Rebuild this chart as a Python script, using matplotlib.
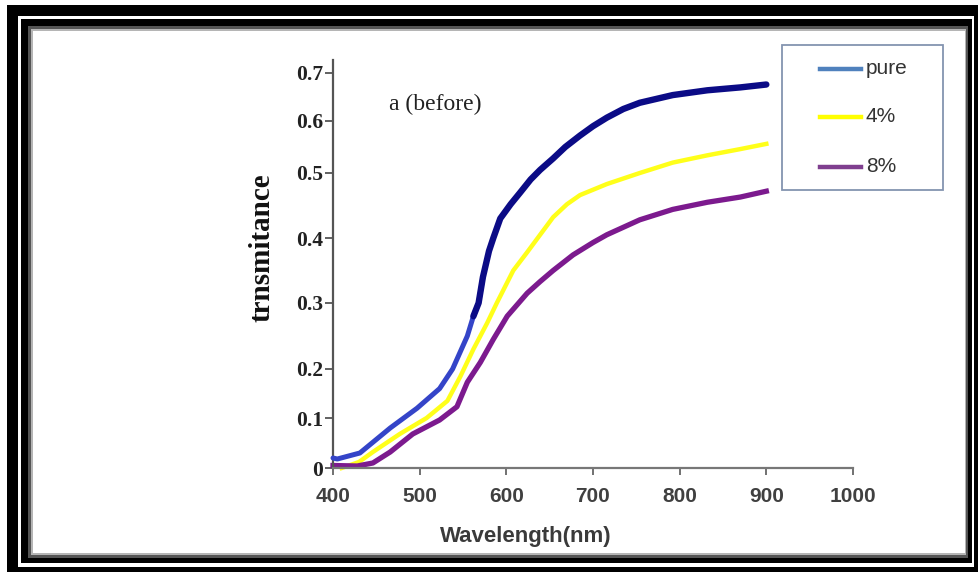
import numpy as np
import matplotlib
matplotlib.use('Agg')
import matplotlib.pyplot as plt
from matplotlib.patches import Rectangle
from matplotlib.lines import Line2D

# values
pure_wl = [400, 405, 431, 466, 497, 523, 538, 555, 562, 568, 573, 580, 585, 593, 605, 616, 628, 639, 654, 668, 685, 700, 716, 735, 754, 792, 832, 870, 900]
pure_t = [0.02, 0.018, 0.03, 0.08, 0.12, 0.16, 0.20, 0.25, 0.28, 0.30, 0.34, 0.38, 0.40, 0.43, 0.452, 0.47, 0.49, 0.506, 0.528, 0.55, 0.572, 0.59, 0.607, 0.625, 0.638, 0.654, 0.664, 0.670, 0.676]

yellow_wl = [410, 430, 446, 477, 508, 532, 547, 562, 578, 589, 608, 624, 639, 654, 670, 685, 716, 754, 792, 832, 870, 900]
yellow_t = [0.0, 0.012, 0.032, 0.068, 0.10, 0.135, 0.185, 0.23, 0.27, 0.30, 0.35, 0.378, 0.405, 0.432, 0.452, 0.466, 0.483, 0.50, 0.52, 0.534, 0.546, 0.556]

purple_wl = [400, 428, 446, 466, 492, 523, 543, 555, 570, 585, 601, 624, 639, 654, 677, 700, 716, 754, 792, 832, 870, 900]
purple_t = [0.005, 0.004, 0.01, 0.032, 0.068, 0.096, 0.123, 0.173, 0.21, 0.245, 0.28, 0.315, 0.333, 0.35, 0.374, 0.393, 0.405, 0.428, 0.444, 0.455, 0.463, 0.472]

y_ticks = [0, 0.1, 0.2, 0.3, 0.4, 0.5, 0.6, 0.7]
y_labels = ['0', '0.1', '0.2', '0.3', '0.4', '0.5', '0.6', '0.7']
x_ticks = [400, 500, 600, 700, 800, 900, 1000]
names = ['pure', '4%', '8%']

W, H = 979, 574
fig = plt.figure(figsize=(W / 100, H / 100), dpi=100)
fig.patch.set_facecolor('white')


def box(x0, y0, x1, y1, color, z):
    # rectangle given in image pixels (origin top-left)
    fig.add_artist(Rectangle((x0 / W, 1 - y1 / H), (x1 - x0) / W, (y1 - y0) / H,
                             transform=fig.transFigure, facecolor=color,
                             edgecolor='none', zorder=z))


# double black frame around the picture
box(7, 5, 978, 572, 'black', -10)
box(18, 16, 974, 567, 'white', -9)
box(21, 19, 972, 563, 'black', -8)
box(28, 26, 968, 558, '#555555', -7)
box(31, 29, 966, 555, '#b5b5b5', -6)
box(33, 31, 965, 553, 'white', -5)

# the scanned y axis is not evenly spaced
scale_v = [-1] + y_ticks + [2]
scale_p = [-500, 0, 50, 99, 165, 230, 295, 347, 395, 395 + 1.3 * 500]


def fwd(v):
    return np.interp(v, scale_v, scale_p)


def inv(p):
    return np.interp(p, scale_p, scale_v)


ax = fig.add_axes([333 / W, (H - 468) / H, 520 / W, 408 / H])
ax.set_facecolor('none')
ax.set_yscale('function', functions=(fwd, inv))

# pure curve: lighter blue at the bottom, navy above
pure_wl_a = np.array(pure_wl)
pure_t_a = np.array(pure_t)
low = pure_wl_a <= 573
high = pure_wl_a >= 562
ax.plot(pure_wl_a[low], pure_t_a[low], color='#3444c8', lw=3.6, clip_on=False, zorder=3,
        solid_capstyle='round')
ax.plot(pure_wl_a[high], pure_t_a[high], color='#0b0b86', lw=4.6, clip_on=False, zorder=4,
        solid_capstyle='round', solid_joinstyle='round')
ax.plot(yellow_wl, yellow_t, color='#ffff1a', lw=3.2, clip_on=False, zorder=2,
        solid_joinstyle='round')
ax.plot(purple_wl, purple_t, color='#7c1a8e', lw=3.8, clip_on=False, zorder=2,
        solid_joinstyle='round')

ax.set_xlim(400, 1000)
ax.set_ylim(0, 0.726)
ax.set_xticks(x_ticks)
ax.set_xticklabels([str(t) for t in x_ticks])
ax.set_yticks(y_ticks)
ax.set_yticklabels(y_labels)
ax.yaxis.set_minor_locator(matplotlib.ticker.NullLocator())

for s in ['top', 'right']:
    ax.spines[s].set_visible(False)
ax.spines['left'].set_color('#555555')
ax.spines['left'].set_linewidth(1.6)
ax.spines['bottom'].set_color('#777777')
ax.spines['bottom'].set_linewidth(1.6)

ax.tick_params(axis='x', direction='out', length=5, width=1.3, color='#666666',
               pad=9, labelsize=15, labelcolor='#404040')
ax.tick_params(axis='y', direction='out', length=6, width=1.3, color='#555555',
               pad=1, labelsize=15.5, labelcolor='#222222')
for lab in ax.get_xticklabels():
    lab.set_fontfamily('Liberation Sans')
    lab.set_fontweight('bold')
for lab in ax.get_yticklabels():
    lab.set_fontfamily('Liberation Serif')
    lab.set_fontweight('bold')

ax.set_xlabel('Wavelength(nm)', fontsize=16, fontweight='bold', family='Liberation Sans',
              color='#3a3a3a', va='center')
ax.xaxis.set_label_coords(0.371, -0.169)
ax.set_ylabel('trnsmitance', fontsize=21, fontweight='bold', family='Liberation Serif',
              color='#111111', va='center')
ax.yaxis.set_label_coords(-0.1365, 0.539)

ax.text(0.196, 0.89, 'a (before)', transform=ax.transAxes, fontsize=17,
        family='Liberation Serif', color='#222222', ha='center', va='center')

# legend box drawn as in the original (Excel style)
leg_colors = ['#4f81bd', '#ffff00', '#7f3f8f']
leg_y = [69, 117, 167]
fig.add_artist(Rectangle((782 / W, 1 - 190 / H), 161 / W, 145 / H, transform=fig.transFigure,
                         facecolor='white', edgecolor='#8494b0', lw=1.3, zorder=5))
for name, c, yy in zip(names, leg_colors, leg_y):
    fig.add_artist(Line2D([820 / W, 861 / W], [1 - yy / H, 1 - yy / H], transform=fig.transFigure,
                          color=c, lw=3.2, zorder=6))
    fig.text(866 / W, 1 - yy / H, name, fontsize=15, family='Liberation Sans', color='#333333',
             ha='left', va='center', zorder=6)

fig.savefig('out.png', dpi=100)
